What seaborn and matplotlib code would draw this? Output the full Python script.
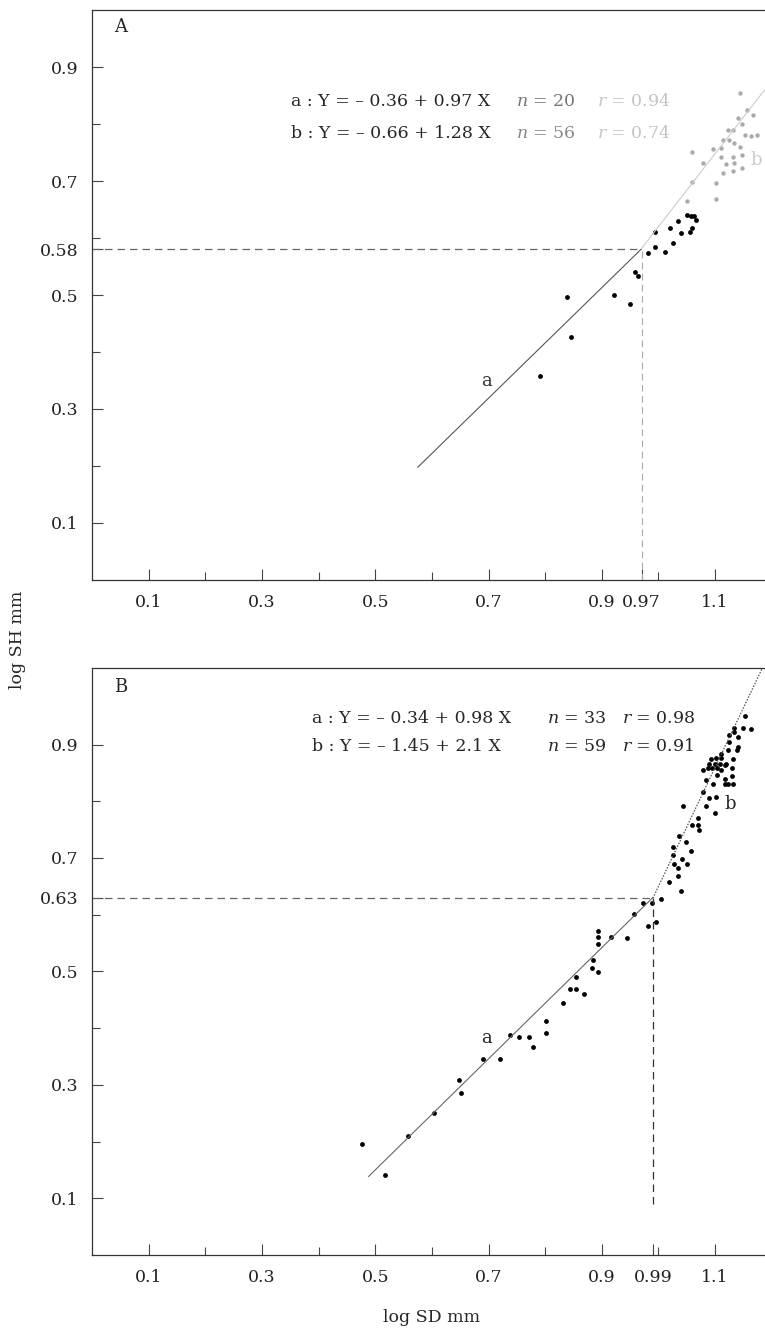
import numpy as np
import pandas as pd
import matplotlib
matplotlib.use("Agg")
import matplotlib.pyplot as plt
import seaborn as sns

# panel A: log SD (x) and log SH (y)
a_dark_x = [0.839, 0.922, 0.950, 0.846, 0.790, 0.959, 0.963, 0.982, 0.993, 1.011,
            0.993, 1.026, 1.021, 1.035, 1.040, 1.051, 1.055, 1.058, 1.062, 1.067, 1.060]
a_dark_y = [0.496, 0.500, 0.484, 0.426, 0.358, 0.540, 0.533, 0.574, 0.584, 0.575,
            0.611, 0.591, 0.617, 0.630, 0.609, 0.640, 0.611, 0.638, 0.639, 0.632, 0.618]
a_faded_x = [1.051, 1.060, 1.060, 1.078, 1.102, 1.102, 1.097, 1.111, 1.111, 1.113,
             1.131, 1.147, 1.120, 1.134, 1.113, 1.125, 1.134, 1.122, 1.131, 1.143,
             1.147, 1.131, 1.152, 1.164, 1.173, 1.140, 1.148, 1.157, 1.166, 1.143]
a_faded_y = [0.665, 0.698, 0.751, 0.732, 0.668, 0.697, 0.756, 0.758, 0.742, 0.714,
             0.718, 0.723, 0.730, 0.732, 0.772, 0.772, 0.767, 0.789, 0.789, 0.760,
             0.746, 0.742, 0.781, 0.779, 0.781, 0.811, 0.800, 0.825, 0.816, 0.854]

# panel B
b_x = [0.477, 0.518, 0.557, 0.603, 0.648, 0.652, 0.691, 0.721, 0.738, 0.753,
       0.772, 0.779, 0.802, 0.802, 0.832, 0.843, 0.855, 0.855, 0.869, 0.882,
       0.885, 0.894, 0.894, 0.894, 0.894, 0.917, 0.945, 0.956, 0.973, 0.989,
       0.982, 0.996, 1.004,
       1.019, 1.035, 1.035, 1.040, 1.028, 1.042, 1.051, 1.025, 1.025, 1.037,
       1.048, 1.044, 1.058, 1.060, 1.069, 1.069, 1.072, 1.099, 1.083, 1.090,
       1.102, 1.078, 1.097, 1.083, 1.117, 1.122, 1.131, 1.117, 1.129, 1.104,
       1.078, 1.087, 1.095, 1.104, 1.111, 1.120, 1.129, 1.090, 1.099, 1.108,
       1.117, 1.092, 1.101, 1.110, 1.131, 1.111, 1.122, 1.138, 1.125, 1.140,
       1.125, 1.134, 1.141, 1.134, 1.150, 1.163, 1.152]
b_y = [0.195, 0.141, 0.209, 0.251, 0.308, 0.286, 0.346, 0.346, 0.388, 0.385,
       0.385, 0.366, 0.413, 0.392, 0.445, 0.469, 0.469, 0.490, 0.460, 0.506,
       0.520, 0.499, 0.571, 0.561, 0.548, 0.561, 0.559, 0.601, 0.620, 0.620,
       0.580, 0.587, 0.627,
       0.657, 0.668, 0.682, 0.641, 0.690, 0.699, 0.690, 0.720, 0.706, 0.738,
       0.729, 0.791, 0.712, 0.759, 0.770, 0.759, 0.750, 0.779, 0.791, 0.805,
       0.807, 0.817, 0.830, 0.838, 0.830, 0.830, 0.830, 0.840, 0.844, 0.847,
       0.856, 0.858, 0.858, 0.858, 0.856, 0.865, 0.858, 0.866, 0.866, 0.866,
       0.864, 0.875, 0.877, 0.877, 0.875, 0.884, 0.891, 0.891, 0.905, 0.896,
       0.917, 0.923, 0.914, 0.930, 0.930, 0.928, 0.951]

# regression lines: intercept, slope, x range
A_a = (-0.36, 0.97, 0.575, 0.97)
A_b = (-0.66, 1.28, 0.97, 1.188)
B_a = (-0.34, 0.98, 0.488, 0.99)
B_b = (-1.45, 2.1, 0.99, 1.188)
A_cross = (0.97, 0.58)
B_cross = (0.99, 0.63)

x_major = [0.1, 0.3, 0.5, 0.7, 0.9, 1.1]
x_minor = [0.2, 0.4, 0.6, 0.8, 1.0]
y_major = [0.1, 0.3, 0.5, 0.7, 0.9]
y_minor = [0.2, 0.4, 0.6, 0.8]

sns.set_theme(style="ticks")
plt.rcParams['font.family'] = ['DejaVu Serif']
plt.rcParams['mathtext.fontset'] = 'dejavuserif'

W, H = 765, 1335
fig = plt.figure(figsize=(W / 100, H / 100), dpi=100)
axA = fig.add_axes([92 / W, (H - 580) / H, 673 / W, 570 / H])
axB = fig.add_axes([92 / W, (H - 1255) / H, 673 / W, 587 / H])


def style_axis(ax, ylim, extra_x, extra_y):
    ax.set_xlim(0, 1.188)
    ax.set_ylim(*ylim)
    ax.spines['right'].set_visible(False)
    for s in ['left', 'bottom', 'top']:
        ax.spines[s].set_color('#333333')
        ax.spines[s].set_linewidth(0.9)
    xt = sorted(x_major + [extra_x])
    ax.set_xticks(xt)
    ax.set_xticklabels([f"{v:g}" for v in xt])
    ax.set_xticks(x_minor, minor=True)
    yt = sorted(y_major + [extra_y])
    ax.set_yticks(yt)
    ax.set_yticklabels([f"{v:g}" for v in yt])
    ax.set_yticks(y_minor, minor=True)
    ax.tick_params(axis='both', which='major', direction='in', length=8,
                   width=0.8, color='#444444', labelsize=12.5, pad=10,
                   labelcolor='#222222')
    ax.tick_params(axis='both', which='minor', direction='in', length=6,
                   width=0.8, color='#444444')
    ax.set_xlabel('')
    ax.set_ylabel('')


def reg_line(ax, coef, color, ls='-', lw=0.8):
    b0, b1, x0, x1 = coef
    xs = np.array([x0, x1])
    sns.lineplot(x=xs, y=b0 + b1 * xs, ax=ax, color=color, lw=lw, linestyle=ls)


# ---- panel A ----
reg_line(axA, A_a, '#555555')
reg_line(axA, A_b, '#cccccc')
cx, cy = A_cross
axA.plot([0, cx], [cy, cy], ls=(0, (6, 4)), color='#666666', lw=0.9)
axA.plot([cx, cx], [0, cy], ls=(0, (6, 4)), color='#aaaaaa', lw=0.8)
sns.scatterplot(x=a_faded_x, y=a_faded_y, ax=axA, color='#aaaaaa', s=10,
                marker='o', linewidth=0)
sns.scatterplot(x=a_dark_x, y=a_dark_y, ax=axA, color='black', s=12,
                marker='o', linewidth=0)
style_axis(axA, (0, 1.0), 0.97, 0.58)
axA.text(0.039, 0.970, 'A', fontsize=13, va='center', ha='left')
axA.text(0.696, 0.349, 'a', fontsize=13, va='center', ha='center', color='#333333')
axA.text(1.173, 0.737, 'b', fontsize=13, va='center', ha='center', color='#cccccc')
axA.text(0.352, 0.839, 'a : Y = – 0.36 + 0.97 X', fontsize=12.5, va='center')
axA.text(0.352, 0.784, 'b : Y = – 0.66 + 1.28 X', fontsize=12.5, va='center')
axA.text(0.749, 0.839, '$n$ = 20', fontsize=12.5, va='center', color='#777777')
axA.text(0.749, 0.784, '$n$ = 56', fontsize=12.5, va='center', color='#888888')
axA.text(0.892, 0.839, '$r$ = 0.94', fontsize=12.5, va='center', color='#c4c4c4')
axA.text(0.892, 0.784, '$r$ = 0.74', fontsize=12.5, va='center', color='#c4c4c4')

# ---- panel B ----
reg_line(axB, B_a, '#666666')
reg_line(axB, B_b, '#555555', ls=(0, (1.2, 1.2)), lw=0.9)
cx, cy = B_cross
axB.plot([0, cx], [cy, cy], ls=(0, (6, 4)), color='#666666', lw=0.9)
axB.plot([cx, cx], [0.09, cy], ls=(0, (6, 4)), color='#333333', lw=0.9)
sns.scatterplot(x=b_x, y=b_y, ax=axB, color='black', s=12, marker='o', linewidth=0)
style_axis(axB, (0, 1.035), 0.99, 0.63)
axB.text(0.039, 1.002, 'B', fontsize=13, va='center', ha='left')
axB.text(0.696, 0.383, 'a', fontsize=13, va='center', ha='center')
axB.text(1.127, 0.795, 'b', fontsize=13, va='center', ha='center')
axB.text(0.389, 0.946, 'a : Y = – 0.34 + 0.98 X', fontsize=12.5, va='center')
axB.text(0.389, 0.896, 'b : Y = – 1.45 + 2.1 X', fontsize=12.5, va='center')
axB.text(0.804, 0.946, '$n$ = 33', fontsize=12.5, va='center')
axB.text(0.804, 0.896, '$n$ = 59', fontsize=12.5, va='center')
axB.text(0.935, 0.946, '$r$ = 0.98', fontsize=12.5, va='center')
axB.text(0.935, 0.896, '$r$ = 0.91', fontsize=12.5, va='center')

fig.text(18 / W, 1 - 640 / H, 'log SH mm', rotation=90, fontsize=12.5,
         ha='center', va='center')
fig.text(432 / W, 1 - 1318 / H, 'log SD mm', fontsize=12.5,
         ha='center', va='center')

fig.savefig('out.png', dpi=100)
